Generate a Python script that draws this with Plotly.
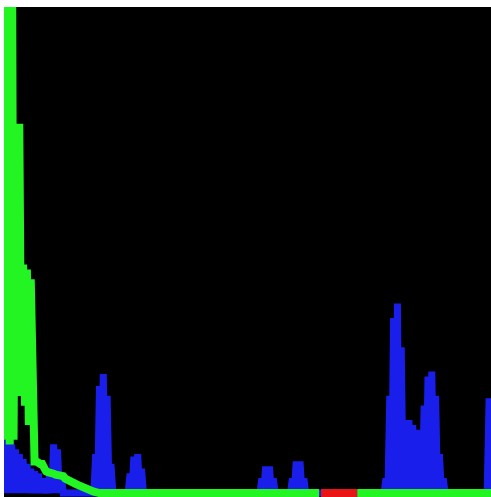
import plotly.graph_objects as go

# Per-channel histogram counts (relative units, 0..100 visible), by bin index 0..255.
# None marks empty bins (not drawn).
green_bins = [0, 1, 2, 3, 4, 5, 6, 7, 8, 9, 10, 11, 12, 13, 14, 15, 16, 17, 18, 19,
              20, 21, 22, 23, 24, 25, 26, 27, 28, 29, 30, 31, 32, 33, 34, 35, 36, 37,
              38, 39, 40, 41, 42, 43, 44, 45, 46, 47, 48, 49, 50, 165, 166, 185, 255]
green_vals = [140, 11, 150, 10, 140, 11, 76, 20, 76, 21, 47, 18, 46, 14, 44, 7, 6.5, 6.5,
              6, 6, 6, 5, 4.5, 4.3, 4.3, 4, 4, 3.8, 3.8, 3.8, 3.6, 3.5, 3, 2.7, 2.5, 2.3,
              2.2, 2, 1.8, 1.6, 1.3, 1.1, 1, 0.9, 0.7, 0.5, 0.4, 0.3, 0.2, 0.1, 0, 0, None, 0, 0]

blue_bins = [0, 1, 2, 3, 4, 5, 6, 7, 8, 9, 10, 11, 12, 13, 14, 15, 16, 17, 18, 19, 20, 21,
             22, 23, 24, 25, 26, 27, 28, 29, 30, 31,
             47, 48, 49, 50, 51, 52, 53, 54, 55, 56, 57,
             65, 66, 67, 68, 69, 70, 71, 72, 73,
             134, 135, 136, 137, 138, 139, 140, 141, 142,
             150, 151, 152, 153, 154, 155, 156, 157, 158,
             199, 200, 201, 202, 203, 204, 205, 206, 207, 208, 209, 210, 211, 212, 213, 214,
             215, 216, 217, 218, 219, 220, 221, 222, 223, 224, 225, 226, 227, 228, 229,
             230, 231, 253, 254, 255]
blue_vals = [11, 0, 10.5, 0, 10, 0, 9, 0, 8, 0, 7, 0, 6, 0, 5, 0, 4.5, 0, 4, 0, 3, 0,
             2, 0, 5, 0, 10, 0, 9, 0, 4, 0,
             0, 8, 0, 22, 0, 24.5, 0, 20, 0, 6, 0,
             0, 4, 0, 7.5, 0, 8, 0, 5, 0,
             0, 3, 0, 5.5, 0, 5.5, 0, 3, 0,
             0, 3, 0, 6.5, 0, 6.5, 0, 3, 0,
             0, 3, 0, 20, 0, 36, 0, 39, 0, 30, 0, 14, 0, 15, 0, 14,
             0, 13, 0, 12, 0, 18, 0, 24, 0, 25, 0, 20, 0, 8, 0,
             3, 0, 0, 19.5, 0]

red_bins = [166, 185]
red_vals = [0, 0]

GREEN = "rgb(35,245,35)"
BLUE = "rgb(25,30,235)"
RED = "rgb(235,20,20)"

fig = go.Figure()
fig.add_trace(go.Scatter(x=blue_bins, y=blue_vals, mode="lines",
                         line=dict(color=BLUE, width=7), connectgaps=False))
fig.add_trace(go.Scatter(x=red_bins, y=red_vals, mode="lines",
                         line=dict(color=RED, width=8), connectgaps=False))
fig.add_trace(go.Scatter(x=green_bins, y=green_vals, mode="lines",
                         line=dict(color=GREEN, width=8), connectgaps=False))

fig.update_layout(
    width=491, height=497,
    margin=dict(l=4, r=0, t=7, b=0, pad=0),
    paper_bgcolor="white",
    plot_bgcolor="black",
    showlegend=False,
    xaxis=dict(range=[0, 255], visible=False, fixedrange=True),
    yaxis=dict(range=[-0.8, 100], visible=False, fixedrange=True),
)

fig.write_html("out.html", config={"displayModeBar": False},
               post_script="document.body.style.margin='0';document.body.style.overflow='hidden';")
